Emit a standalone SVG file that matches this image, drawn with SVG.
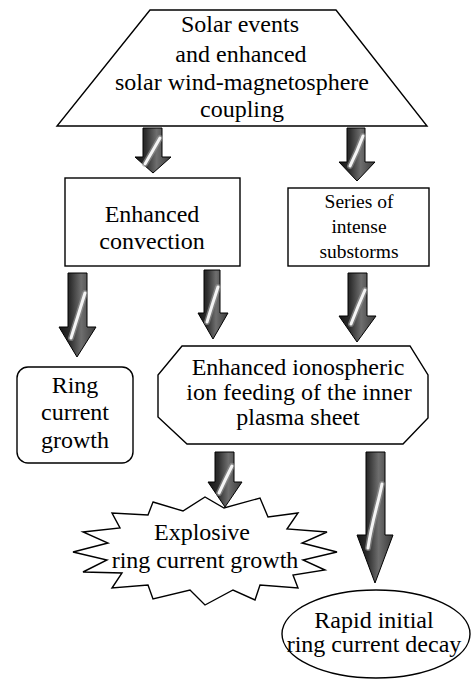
<svg xmlns="http://www.w3.org/2000/svg" width="475" height="679" viewBox="0 0 475 679">
<style>
.shape{fill:#fff;stroke:#000;stroke-width:1.4}
text{font-family:"Liberation Serif","Times New Roman",serif;fill:#000;text-anchor:middle}
.t24{font-size:24px}
.t19{font-size:19.5px}
.arr{fill:url(#ag);stroke:#000;stroke-width:1}
.streak{fill:none;stroke:#f4f4f4;stroke-width:3;stroke-linecap:round}
.halo{fill:none;stroke:#9a9a9a;stroke-width:6;stroke-linecap:round;opacity:.6}
</style>
<defs>
<linearGradient id="ag" x1="0" y1="0" x2="1" y2="0">
<stop offset="0" stop-color="#151515"/>
<stop offset="0.3" stop-color="#2e2e2e"/>
<stop offset="0.6" stop-color="#6e6e6e"/>
<stop offset="1" stop-color="#3a3a3a"/>
</linearGradient>
</defs>

<g id="solar">
<polygon class="shape" points="150,10 336,10 427,126 57,126"/>
<text class="t24" x="240" y="32">Solar events</text>
<text class="t24" x="241" y="62">and enhanced</text>
<text class="t24" x="242" y="90">solar wind-magnetosphere</text>
<text class="t24" x="242" y="117">coupling</text>
</g>

<g id="convection">
<rect class="shape" x="65" y="178" width="175" height="88"/>
<text class="t24" x="152" y="222">Enhanced</text>
<text class="t24" x="152" y="249">convection</text>
</g>

<g id="substorms">
<rect class="shape" x="288" y="188" width="141" height="78"/>
<text class="t19" x="359" y="208">Series of</text>
<text class="t19" x="359" y="233">intense</text>
<text class="t19" x="359" y="258">substorms</text>
</g>

<g id="ringgrowth">
<rect class="shape" x="17" y="367" width="116" height="96" rx="11" ry="11"/>
<text class="t24" x="75" y="393">Ring</text>
<text class="t24" x="75" y="420">current</text>
<text class="t24" x="75" y="448">growth</text>
</g>

<g id="ionfeeding">
<polygon class="shape" points="182,346 410,346 428,375 428,418 403,444 187,444 158,417 158,375"/>
<text class="t24" x="298" y="375">Enhanced ionospheric</text>
<text class="t24" x="299" y="400">ion feeding of the inner</text>
<text class="t24" x="298" y="425">plasma sheet</text>
</g>

<g id="explosive">
<polygon class="shape" points="153,502 183,511 205,497 224,508 260,498 268,517 298,513 287,529 327,532 302,543 337,552 303,560 325,570 293,575 298,588 260,585 255,600 233,590 205,605 190,590 153,599 148,585 112,588 122,573 83,572 107,560 73,552 108,543 83,532 120,528 112,513 148,515"/>
<text class="t24" x="202" y="540">Explosive</text>
<text class="t24" x="205" y="568">ring current growth</text>
</g>

<g id="decay">
<ellipse class="shape" cx="376" cy="634" rx="94" ry="44"/>
<text class="t24" x="374" y="628">Rapid initial</text>
<text class="t24" x="374" y="652">ring current decay</text>
</g>

<g id="connectors">
<path class="arr" d="M143,128 H162 V157 H171 L153,173 L135,157 H143 Z"/>
<path class="halo" d="M145,164 Q152,152 160,138"/>
<path class="streak" d="M145,164 Q152,152 160,138"/>

<path class="arr" d="M347,128 H365 V162 H375 L357,181 L339,162 H347 Z"/>
<path class="halo" d="M350,166 Q357,152 363,136"/>
<path class="streak" d="M350,166 Q357,152 363,136"/>

<path class="arr" d="M68,273 H87 V327 H96 L77,357 L59,327 H68 Z"/>
<path class="halo" d="M71,338 Q78,316 85,293"/>
<path class="streak" d="M71,338 Q78,316 85,293"/>

<path class="arr" d="M204,270 H220 V313 H228 L213,339 L198,313 H204 Z"/>
<path class="halo" d="M207,322 Q212,305 218,287"/>
<path class="streak" d="M207,322 Q212,305 218,287"/>

<path class="arr" d="M348,273 H367 V316 H376 L357,342 L339,316 H348 Z"/>
<path class="halo" d="M351,324 Q358,306 365,290"/>
<path class="streak" d="M351,324 Q358,306 365,290"/>

<path class="arr" d="M215,452 H234 V482 H242 L225,507 L208,482 H215 Z"/>
<path class="halo" d="M219,493 Q225,480 232,466"/>
<path class="streak" d="M219,493 Q225,480 232,466"/>

<path class="arr" d="M366,452 H385 V535 H393 L375,583 L357,535 H366 Z"/>
<path class="halo" d="M368,548 C372,520 378,505 382,484"/>
<path class="streak" d="M368,548 C372,520 378,505 382,484"/>
</g>
</svg>
